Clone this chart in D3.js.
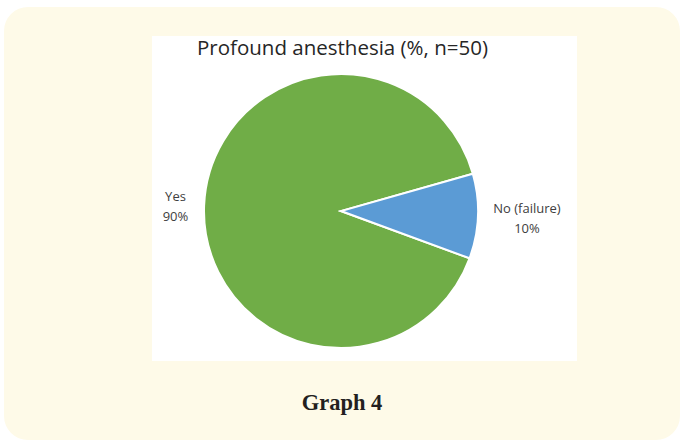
<!DOCTYPE html>
<html>
<head>
<meta charset="utf-8">
<script src="https://cdn.jsdelivr.net/npm/d3@7"></script>
<style>
  html, body { margin: 0; padding: 0; background: #ffffff; }
  svg { display: block; }
</style>
</head>
<body>
<svg id="chart" width="680" height="440"></svg>
<script>
// Chart data
const categories = ["Yes", "No (failure)"];
const values = [90, 10];
const colors = ["#70AD47", "#5B9BD5"];
const title = "Profound anesthesia (%, n=50)";
const caption = "Graph 4";

const svg = d3.select("#chart");

// Card background
svg.append("rect")
  .attr("x", 4).attr("y", 7)
  .attr("width", 676).attr("height", 433)
  .attr("rx", 24).attr("ry", 24)
  .attr("fill", "#FEFAE8");

// Chart area
svg.append("rect")
  .attr("x", 152).attr("y", 36)
  .attr("width", 425).attr("height", 325)
  .attr("fill", "#ffffff");

svg.append("text")
  .attr("x", 342.5).attr("y", 55)
  .attr("text-anchor", "middle")
  .attr("font-family", "'Open Sans', 'Liberation Sans', sans-serif")
  .attr("font-size", 20.5)
  .attr("fill", "#262626")
  .text(title);

const cx = 341, cy = 211, r = 137;
const startDeg = 110.2;
const pie = d3.pie().sort(null).value(d => d)
  .startAngle(startDeg * Math.PI / 180)
  .endAngle((startDeg + 360) * Math.PI / 180);
const arcs = pie(values);
const arc = d3.arc().innerRadius(0).outerRadius(r);

const g = svg.append("g").attr("transform", `translate(${cx},${cy})`);
g.selectAll("path").data(arcs).enter().append("path")
  .attr("d", arc)
  .attr("fill", (d, i) => colors[i])
  .attr("stroke", "#ffffff")
  .attr("stroke-width", 2);

// Outside labels (first-line baseline)
const labelPos = [[175.5, 201], [527, 213]];
arcs.forEach((d, i) => {
  const t = svg.append("text")
    .attr("text-anchor", "middle")
    .attr("font-family", "'Open Sans', 'Liberation Sans', sans-serif")
    .attr("font-size", 13)
    .attr("fill", "#404040");
  t.append("tspan").attr("x", labelPos[i][0]).attr("y", labelPos[i][1]).text(categories[i]);
  t.append("tspan").attr("x", labelPos[i][0]).attr("y", labelPos[i][1] + 19.5).text(values[i] + "%");
});

svg.append("text")
  .attr("x", 342).attr("y", 410)
  .attr("text-anchor", "middle")
  .attr("font-family", "'Liberation Serif', 'DejaVu Serif', serif")
  .attr("font-weight", "bold")
  .attr("font-size", 22.5)
  .attr("fill", "#231f20")
  .text(caption);
</script>
</body>
</html>
